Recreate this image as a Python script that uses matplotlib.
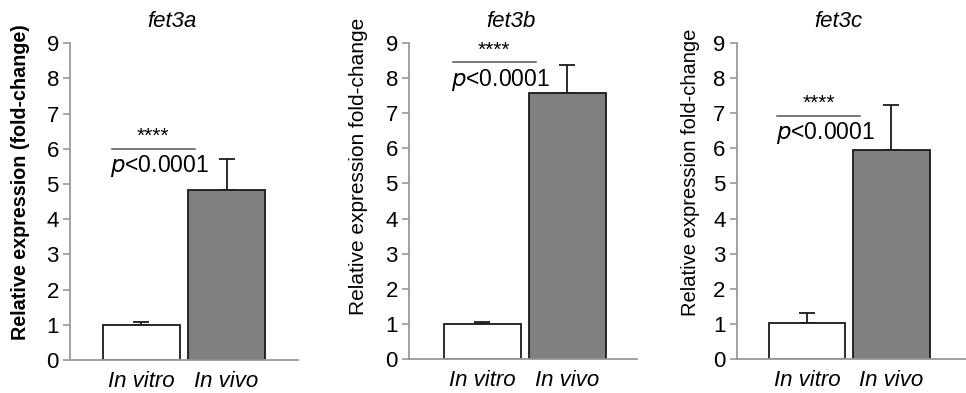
#!/usr/bin/env python3
"""Relative expression of fet3 paralogues, in vitro vs in vivo."""

import matplotlib
matplotlib.use("Agg")
import matplotlib.pyplot as plt

plt.rcParams["font.family"] = ["Liberation Sans", "DejaVu Sans"]

genes = ["fet3a", "fet3b", "fet3c"]
conditions = ["In vitro", "In vivo"]
means = [[1.0, 4.83], [1.0, 7.56], [1.04, 5.95]]
errors = [[0.07, 0.88], [0.06, 0.82], [0.28, 1.29]]
p_label = "<0.0001"
stars = "****"
ylabels = ["Relative expression (fold-change)",
           "Relative expression fold-change",
           "Relative expression fold-change"]

# layout (pixels of a 966x393 canvas)
W, H = 966, 393
AX_PX = [(70, 43.3, 228, 316.7), (409, 42.7, 228, 316.6), (736.7, 42.7, 229, 316.6)]
SIG_Y = [6.0, 8.44, 6.92]
LABEL_POS = [(-0.175, 0.562), (-0.18, 0.61), (-0.16, 0.59)]
LABEL_SIZE = [14.2, 15, 14.5]
XLIM = [(-0.84, 1.84), (-0.865, 1.82), (-0.83, 1.88)]
SPINE = "#9a9a9a"

fig = plt.figure(figsize=(W / 100, H / 100), dpi=100)

for i, gene in enumerate(genes):
    x0, y0, w, h = AX_PX[i]
    ax = fig.add_axes([x0 / W, 1 - (y0 + h) / H, w / W, h / H])
    pos = [0, 1]
    ax.bar(pos, means[i], width=0.905, color=["white", "#808080"],
           edgecolor="#1a1a1a", linewidth=1.3, zorder=2)
    ax.errorbar(pos, means[i], yerr=[[0, 0], errors[i]], fmt="none",
                ecolor="#1a1a1a", elinewidth=1.3, capsize=6, capthick=1.3, zorder=1)
    ax.set_xlim(*XLIM[i])
    ax.set_ylim(0, 9)
    ax.set_yticks(range(10))
    ax.set_xticks(pos, conditions, fontstyle="italic", fontsize=16)
    ax.tick_params(axis="x", length=0, pad=8)
    ax.tick_params(axis="y", direction="out", length=5, width=1.2, color=SPINE,
                   labelsize=16, pad=3)
    for side in ["top", "right"]:
        ax.spines[side].set_visible(False)
    for side in ["left", "bottom"]:
        ax.spines[side].set_color(SPINE)
        ax.spines[side].set_linewidth(1.3)
    ax.set_ylabel(ylabels[i], fontsize=LABEL_SIZE[i],
                  fontweight="bold" if i == 0 else "normal")
    ax.yaxis.set_label_coords(*LABEL_POS[i])
    ax.text(0.445, 1.035, gene, transform=ax.transAxes, ha="center", va="bottom",
            fontstyle="italic", fontsize=16)

    # significance marker
    x1, x2 = -0.35, 0.63
    ax.plot([x1, x2], [SIG_Y[i]] * 2, color="#555555", lw=1.1, clip_on=False)
    ax.annotate(stars, ((x1 + x2) / 2, SIG_Y[i]), xytext=(0, 2),
                textcoords="offset points", ha="center", va="bottom", fontsize=15)
    ax.annotate(r"$\it{p}$" + p_label, (x1, SIG_Y[i]), xytext=(-1, -3),
                textcoords="offset points", ha="left", va="top", fontsize=16.5)

fig.savefig("out.png", dpi=100, facecolor="white")
